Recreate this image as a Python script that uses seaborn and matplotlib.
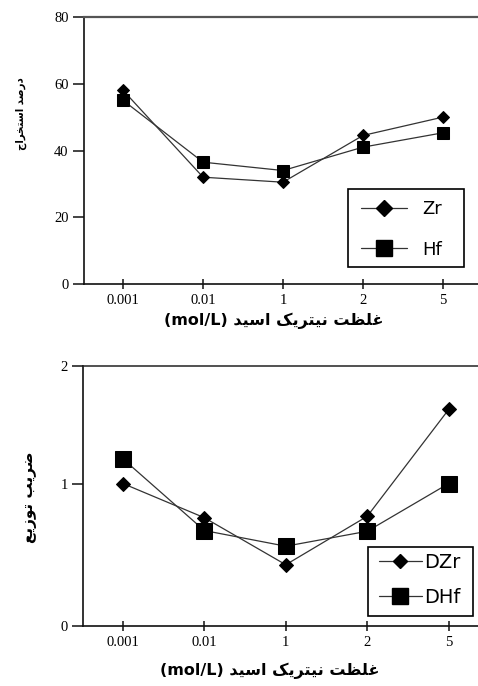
import numpy as np
import pandas as pd
import matplotlib
matplotlib.use("Agg")
import matplotlib.pyplot as plt
from matplotlib.lines import Line2D
from matplotlib.patches import Rectangle
import seaborn as sns

# ---------------- data ----------------
concentrations = ["0.001", "0.01", "1", "2", "5"]
zr_extraction = [58.0, 32.0, 30.5, 44.5, 50.0]
hf_extraction = [55.0, 36.5, 34.0, 41.0, 45.3]
d_zr = [1.0, 0.76, 0.43, 0.77, 1.63]
d_hf = [1.21, 0.67, 0.56, 0.665, 1.0]
top_series = ["Zr", "Hf"]
bottom_series = ["DZr", "DHf"]
top_yticks = [0, 20, 40, 60, 80]
bottom_yticks = [0, 1, 2]
xlabel_fa = "غلظت نیتریک اسید"
xlabel_unit = "(mol/L)"
top_ylabel = "درصد استخراج"
bottom_ylabel = "ضریب توزیع"

# ---------------- minimal Persian shaping (matplotlib has no CTL) ----------------
FORMS = {  # isolated, final, initial, medial
    "ا": ("\uFE8D", "\uFE8E", None, None),
    "د": ("\uFEA9", "\uFEAA", None, None),
    "ر": ("\uFEAD", "\uFEAE", None, None),
    "ز": ("\uFEAF", "\uFEB0", None, None),
    "و": ("\uFEED", "\uFEEE", None, None),
    "ب": ("\uFE8F", "\uFE90", "\uFE91", "\uFE92"),
    "ت": ("\uFE95", "\uFE96", "\uFE97", "\uFE98"),
    "ج": ("\uFE9D", "\uFE9E", "\uFE9F", "\uFEA0"),
    "خ": ("\uFEA5", "\uFEA6", "\uFEA7", "\uFEA8"),
    "س": ("\uFEB1", "\uFEB2", "\uFEB3", "\uFEB4"),
    "ص": ("\uFEB9", "\uFEBA", "\uFEBB", "\uFEBC"),
    "ض": ("\uFEBD", "\uFEBE", "\uFEBF", "\uFEC0"),
    "ظ": ("\uFEC5", "\uFEC6", "\uFEC7", "\uFEC8"),
    "ع": ("\uFEC9", "\uFECA", "\uFECB", "\uFECC"),
    "غ": ("\uFECD", "\uFECE", "\uFECF", "\uFED0"),
    "ل": ("\uFEDD", "\uFEDE", "\uFEDF", "\uFEE0"),
    "ن": ("\uFEE5", "\uFEE6", "\uFEE7", "\uFEE8"),
    "ی": ("\uFBFC", "\uFBFD", "\uFBFE", "\uFBFF"),
    "ک": ("\uFB8E", "\uFB8F", "\uFB90", "\uFB91"),
}


def shape_fa(text):
    out = []
    for i, ch in enumerate(text):
        if ch not in FORMS:
            out.append(ch)
            continue
        prev = text[i - 1] if i > 0 else ""
        nxt = text[i + 1] if i + 1 < len(text) else ""
        jp = prev in FORMS and FORMS[prev][2] is not None
        jn = FORMS[ch][2] is not None and nxt in FORMS
        iso, fin, ini, med = FORMS[ch]
        if jp and jn:
            out.append(med)
        elif jp:
            out.append(fin)
        elif jn:
            out.append(ini)
        else:
            out.append(iso)
    return "".join(out)[::-1]


# ---------------- figure ----------------
sns.set_theme(style="white")
plt.rcParams["font.family"] = ["DejaVu Sans"]
plt.rcParams["text.color"] = "black"

W, H = 478, 686
fig = plt.figure(figsize=(W / 100, H / 100), dpi=100)


def px_axes(l, t, r, b):
    return fig.add_axes([l / W, 1 - b / H, (r - l) / W, (b - t) / H])


def fx(x):
    return x / W


def fy(y):
    return 1 - y / H


ax1 = px_axes(84, 17, 478, 284)
ax2 = px_axes(83, 366, 478, 626)

line_col = "#333333"
tick_family = ["Liberation Serif"]
tick_size = 10.5

# --- top panel ---
df_top = pd.DataFrame({"conc": concentrations * 2,
                       "value": zr_extraction + hf_extraction,
                       "metal": [top_series[0]] * 5 + [top_series[1]] * 5})
top_markers = {top_series[0]: ("D", 5.8), top_series[1]: ("s", 9.2)}
for name in top_series:
    sub = df_top[df_top.metal == name]
    mk, ms = top_markers[name]
    sns.lineplot(data=sub, x="conc", y="value", ax=ax1, color=line_col, lw=0.9,
                 marker=mk, markersize=ms, markerfacecolor="black",
                 markeredgecolor="black", errorbar=None, sort=False)
ax1.set_ylim(0, 80)
ax1.set_xlim(-0.49, 4.44)
ax1.set_yticks(top_yticks)

# --- bottom panel (non-uniform value axis as in the original) ---
frac_one = 0.548
fwd = lambda v: np.interp(v, [0, 1, 2], [0, frac_one, 1])
inv = lambda v: np.interp(v, [0, frac_one, 1], [0, 1, 2])
ax2.set_yscale("function", functions=(fwd, inv))
df_bot = pd.DataFrame({"conc": concentrations * 2,
                       "value": d_zr + d_hf,
                       "metal": [bottom_series[0]] * 5 + [bottom_series[1]] * 5})
bot_markers = {bottom_series[0]: ("D", 7.4), bottom_series[1]: ("s", 11.0)}
for name in bottom_series:
    sub = df_bot[df_bot.metal == name]
    mk, ms = bot_markers[name]
    sns.lineplot(data=sub, x="conc", y="value", ax=ax2, color=line_col, lw=0.9,
                 marker=mk, markersize=ms, markerfacecolor="black",
                 markeredgecolor="black", errorbar=None, sort=False)
ax2.set_ylim(0, 2)
ax2.set_xlim(-0.49, 4.36)
ax2.set_yticks(bottom_yticks)

for ax in (ax1, ax2):
    ax.set_facecolor("none")
    ax.grid(False)
    ax.spines["right"].set_visible(False)
    for s in ("left", "bottom"):
        ax.spines[s].set_color("#111111")
        ax.spines[s].set_linewidth(1.2)
    ax.tick_params(axis="y", direction="out", length=8, width=1.1, pad=3,
                   left=True, colors="#111111")
    ax.tick_params(axis="x", direction="inout", length=7, width=1.1, pad=4,
                   bottom=True, colors="#111111")
    for lab in ax.get_xticklabels() + ax.get_yticklabels():
        lab.set_fontfamily(tick_family)
        lab.set_fontsize(tick_size)
        lab.set_color("black")
    ax.set_xlabel(xlabel_unit + " " + shape_fa(xlabel_fa), fontsize=11.5,
                  fontweight="bold", family=["DejaVu Sans"], color="black")

ax1.spines["top"].set_color("#555555")
ax1.spines["top"].set_linewidth(1.6)
ax2.spines["top"].set_color("#222222")
ax2.spines["top"].set_linewidth(1.1)

ax1.set_ylabel(shape_fa(top_ylabel), fontsize=8.2, fontweight="bold",
               family=["DejaVu Sans"], fontstretch="condensed", color="black")
ax2.set_ylabel(shape_fa(bottom_ylabel), fontsize=11, fontweight="bold",
               family=["DejaVu Sans"], color="black")
ax1.xaxis.set_label_coords((274 - 84) / 394, (284 - 313) / 267)
ax2.xaxis.set_label_coords((270 - 83) / 395, (626 - 663) / 260)
ax1.yaxis.set_label_coords((27 - 84) / 394, (284 - 114) / 267)
ax2.yaxis.set_label_coords((37 - 83) / 395, (626 - 497) / 260)


# --- legends (frame drawn as a box at the original place) ---
def make_handles(names, specs, scale):
    return [Line2D([0], [0], color=line_col, lw=0.9, marker=specs[n][0],
                   markersize=specs[n][1] * scale, markerfacecolor="black",
                   markeredgecolor="black") for n in names]


def legend_box(ax, l, t, r, b):
    ax.add_patch(Rectangle((fx(l), fy(b)), fx(r) - fx(l), fy(t) - fy(b),
                           transform=fig.transFigure, facecolor="white",
                           edgecolor="black", lw=1.2, zorder=4, clip_on=False))


legend_box(ax1, 348, 189, 464, 267)
leg1 = ax1.legend(make_handles(top_series, top_markers, 1.32), top_series,
                  loc="center left", bbox_to_anchor=(fx(361), fy(229.5)),
                  bbox_transform=fig.transFigure, borderaxespad=0, borderpad=0,
                  fontsize=13, handlelength=2.55, handletextpad=0.85,
                  labelspacing=1.25, frameon=False, labelcolor="black")
leg1.set_zorder(5)

legend_box(ax2, 368, 547, 473, 616)
leg2 = ax2.legend(make_handles(bottom_series, bot_markers, 1.0), bottom_series,
                  loc="center left", bbox_to_anchor=(fx(379), fy(580)),
                  bbox_transform=fig.transFigure, borderaxespad=0, borderpad=0,
                  fontsize=14, handlelength=2.2, handletextpad=0.12,
                  labelspacing=0.8, frameon=False, labelcolor="black")
leg2.set_zorder(5)

fig.savefig("out.png", dpi=100)
